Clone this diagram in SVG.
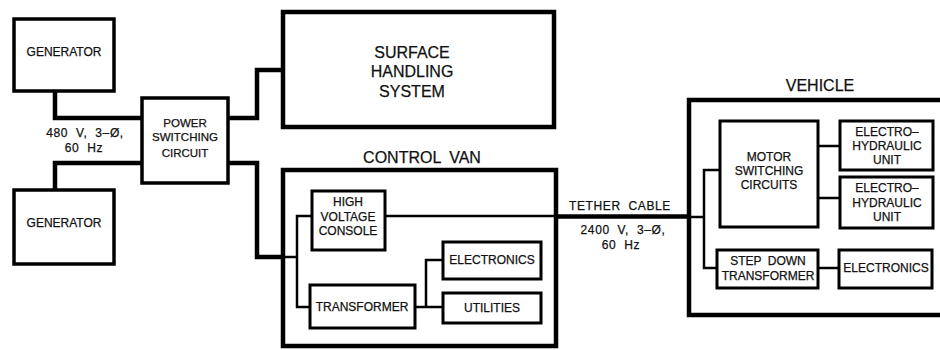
<svg xmlns="http://www.w3.org/2000/svg" width="940" height="350" viewBox="0 0 940 350">
<style>
.big{fill:none;stroke:#000;stroke-width:4.5}
.box{fill:none;stroke:#000;stroke-width:3.5}
.sm{fill:none;stroke:#000;stroke-width:3}
.thk{fill:none;stroke:#000;stroke-width:4.5}
.thn{fill:none;stroke:#000;stroke-width:2.5}
text{font-family:"Liberation Sans",Arial,sans-serif;fill:#111;text-anchor:middle;stroke:#111;stroke-width:0.25}
.t12{font-size:12px}
.t11{font-size:11.5px}
.t16{font-size:16px}
.lbl{font-size:12px;letter-spacing:0.6px;word-spacing:4px}
</style>
<rect width="940" height="350" fill="#fff"/>
<g id="connectors">
<path class="thk" d="M55,91 V118 H142"/>
<path class="thk" d="M55,190 V163 H142"/>
<path class="thk" d="M228,118 H257 V70 H283"/>
<path class="thk" d="M228,163 H257 V257 H283"/>
<path class="thn" d="M283,257 H297"/>
<path class="thn" d="M312,216 H297 V307 H310"/>
<path class="thn" d="M385,216 H556"/>
<path class="thk" d="M556,216.5 H689"/>
<path class="thn" d="M689,217 H704"/>
<path class="thn" d="M415,307 H426 V260 H443 M426,307 H443"/>
<path class="thn" d="M720,170 H704 V268 H717"/>
<path class="thn" d="M818,146 H840 M818,198 H840 M818,268 H839"/>
</g>
<g id="generator1"><rect class="box" x="14" y="19" width="100" height="72"/><text class="t12" x="64" y="56">GENERATOR</text></g>
<g id="generator2"><rect class="box" x="14" y="190" width="100" height="74"/><text class="t12" x="64" y="227">GENERATOR</text></g>
<g id="label480"><text class="lbl" x="85" y="137">480 V, 3–Ø,</text><text class="lbl" x="84" y="152">60 Hz</text></g>
<g id="power-switching"><rect class="box" x="142" y="98" width="86" height="85"/><text class="t11" x="185" y="127">POWER</text><text class="t11" x="185" y="141">SWITCHING</text><text class="t11" x="185" y="157">CIRCUIT</text></g>
<g id="surface-handling"><rect class="big" x="283" y="12" width="271" height="115"/><text class="t16" x="412" y="58">SURFACE</text><text class="t16" x="412" y="77">HANDLING</text><text class="t16" x="412" y="97">SYSTEM</text></g>
<g id="control-van"><rect class="big" x="283" y="170" width="273" height="176"/><text class="t16" x="422" y="163" style="word-spacing:4px">CONTROL VAN</text></g>
<g id="hv-console"><rect class="sm" x="312" y="191" width="73" height="59"/><text class="t12" x="348" y="206">HIGH</text><text class="t12" x="348" y="221">VOLTAGE</text><text class="t12" x="348" y="235">CONSOLE</text></g>
<g id="transformer"><rect class="sm" x="310" y="285" width="105" height="43"/><text class="t12" x="362" y="311">TRANSFORMER</text></g>
<g id="electronics-van"><rect class="sm" x="443" y="242" width="98" height="37"/><text class="t12" x="492" y="264">ELECTRONICS</text></g>
<g id="utilities"><rect class="sm" x="443" y="293" width="98" height="30"/><text class="t12" x="492" y="312">UTILITIES</text></g>
<g id="tether-label"><text class="lbl" x="620" y="210">TETHER CABLE</text><text class="lbl" x="623" y="234">2400 V, 3–Ø,</text><text class="lbl" x="621" y="249">60 Hz</text></g>
<g id="vehicle"><path class="big" d="M945,100 H689 V315 H945"/><text class="t16" x="820" y="91">VEHICLE</text></g>
<g id="motor-switching"><rect class="sm" x="720" y="121" width="98" height="106"/><text class="t12" x="769" y="161">MOTOR</text><text class="t12" x="769" y="175">SWITCHING</text><text class="t12" x="769" y="189">CIRCUITS</text></g>
<g id="ehu1"><rect class="sm" x="840" y="121" width="93" height="49"/><text class="t12" x="887" y="136">ELECTRO–</text><text class="t12" x="887" y="150">HYDRAULIC</text><text class="t12" x="887" y="164">UNIT</text></g>
<g id="ehu2"><rect class="sm" x="840" y="177" width="93" height="51"/><text class="t12" x="887" y="192">ELECTRO–</text><text class="t12" x="887" y="207">HYDRAULIC</text><text class="t12" x="887" y="221">UNIT</text></g>
<g id="step-down"><rect class="sm" x="717" y="250" width="101" height="38"/><text class="t12" x="768" y="265" style="word-spacing:3px">STEP DOWN</text><text class="t12" x="768" y="280">TRANSFORMER</text></g>
<g id="electronics-vehicle"><rect class="sm" x="839" y="250" width="93" height="38"/><text class="t12" x="886" y="272">ELECTRONICS</text></g>
</svg>
